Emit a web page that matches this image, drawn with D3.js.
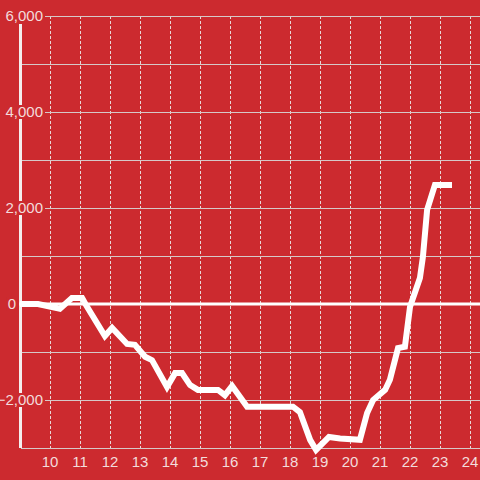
<!DOCTYPE html>
<html><head><meta charset="utf-8">
<script src="https://cdn.jsdelivr.net/npm/d3@7"></script>
<style>html,body{margin:0;padding:0;background:#cc2a2f;}svg{display:block;}</style>
</head><body><svg id="c" width="480" height="480"></svg>
<script>
const hours = [9, 9.6, 10.33, 10.73, 11.07, 11.2, 11.83, 12.07, 12.57, 12.83, 13.17, 13.4, 13.9, 14.17, 14.4, 14.67, 14.93, 15.6, 15.83, 16.07, 16.57, 18.1, 18.33, 18.67, 18.87, 19.3, 19.67, 20.33, 20.57, 20.77, 21.17, 21.33, 21.6, 21.83, 22, 22.17, 22.33, 22.43, 22.57, 22.83, 23.4];
const values = [0, 0, -100, 125, 125, -20, -667, -500, -833, -850, -1100, -1170, -1730, -1440, -1440, -1690, -1790, -1790, -1900, -1710, -2140, -2140, -2250, -2830, -3040, -2770, -2800, -2830, -2270, -2000, -1790, -1580, -920, -890, -60, 250, 540, 980, 1960, 2480, 2480];
const xTicks = [10,11,12,13,14,15,16,17,18,19,20,21,22,23,24];
const yMajor = [6000, 4000, 2000, 0, -2000];
const yMinor = [5000, 3000, 1000, -1000, -3000];

const svg = d3.select("#c");
const bg = "#cc2a2f";
svg.append("rect").attr("width",480).attr("height",480).attr("fill",bg);
const x = d3.scaleLinear().domain([9, 24.333]).range([20, 480]);
const y = d3.scaleLinear().domain([-3000, 6000]).range([448, 16]);

// vertical dotted grid
svg.append("g").selectAll("line").data(xTicks).join("line")
  .attr("x1", d=>x(d)+0.5).attr("x2", d=>x(d)+0.5)
  .attr("y1", y(6000)).attr("y2", y(-3000))
  .attr("stroke","#e8d8d8").attr("stroke-width",1).attr("stroke-dasharray","3,2");

// minor horizontal grid
svg.append("g").selectAll("line").data(yMinor).join("line")
  .attr("x1", 21).attr("x2", 480)
  .attr("y1", d=>y(d)+0.5).attr("y2", d=>y(d)+0.5)
  .attr("stroke","#d6c8c8").attr("stroke-width",1);
// major horizontal grid
svg.append("g").selectAll("line").data(yMajor.filter(d=>d!==0)).join("line")
  .attr("x1", 45).attr("x2", 480)
  .attr("y1", d=>y(d)+0.5).attr("y2", d=>y(d)+0.5)
  .attr("stroke","#d6c8c8").attr("stroke-width",1);

// y axis bar
svg.append("line").attr("x1",20.5).attr("x2",20.5).attr("y1",24).attr("y2",y(-3000))
  .attr("stroke","#f4eeee").attr("stroke-width",3);

// zero line
svg.append("line").attr("x1",19).attr("x2",480).attr("y1",y(0)).attr("y2",y(0))
  .attr("stroke","#ffffff").attr("stroke-width",3);

// y labels with background
const fmt = d3.format(",");
const yl = svg.append("g").selectAll("g").data(yMajor).join("g");
yl.each(function(d){
  const g = d3.select(this);
  const t = g.append("text")
    .attr("x", d===0 ? 16 : 43).attr("y", y(d)).attr("dy","0.35em")
    .attr("text-anchor","end")
    .attr("font-family","Liberation Sans, Arial, sans-serif").attr("font-size",15)
    .attr("fill","#f3dcdc").text(fmt(d));
  const bb = t.node().getBBox();
  g.insert("rect","text").attr("x",bb.x-1).attr("y",y(d)-7).attr("width",bb.width+2).attr("height",14).attr("fill",bg);
});

// x labels
svg.append("g").selectAll("text").data(xTicks).join("text")
  .attr("x", d=>x(d)).attr("y", 467).attr("text-anchor","middle")
  .attr("font-family","Liberation Sans, Arial, sans-serif").attr("font-size",15)
  .attr("fill","#f3dcdc").text(d=>d);

// data line
const line = d3.line().x((d,i)=>x(hours[i])).y(d=>y(d));
svg.append("path").datum(values).attr("d", line)
  .attr("fill","none").attr("stroke","#ffffff").attr("stroke-width",6)
  .attr("stroke-linejoin","miter");
</script></body></html>
